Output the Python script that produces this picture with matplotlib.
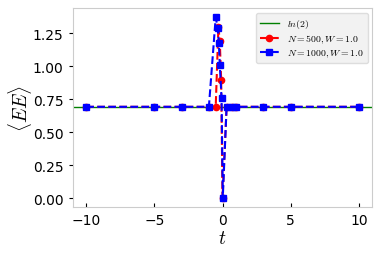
import numpy as np
import matplotlib
matplotlib.use("Agg")
import matplotlib.pyplot as plt

plt.rcParams["mathtext.fontset"] = "cm"

ln2 = np.log(2)

# N = 500
t_500 = [-10, -5, -3, -1, -0.5, -0.3, -0.2, -0.1, 0.0, 0.3, 0.7, 1, 3, 5, 10]
ee_500 = [ln2, ln2, ln2, ln2, ln2, 1.30, 1.19, 0.90, 0.0, ln2, ln2, ln2, ln2, ln2, ln2]

# N = 1000
t_1000 = [-10, -5, -3, -1, -0.5, -0.35, -0.27, -0.2, -0.07, 0.02, 0.3, 0.7, 1, 3, 5, 10]
ee_1000 = [ln2, ln2, ln2, ln2, 1.37, 1.29, 1.18, 1.01, 0.76, 0.005, ln2, ln2, ln2, ln2, ln2, ln2]

fig = plt.figure(figsize=(3.82, 2.55), dpi=100)
ax = fig.add_axes([0.19, 0.183, 0.785, 0.78])

ax.axhline(ln2, color="green", lw=1.0, label=r"$ln(2)$")
ax.plot(t_500, ee_500, "--", color="red", marker="o", ms=4.5, lw=1.5,
        label=r"$N=500,W=1.0$")
ax.plot(t_1000, ee_1000, "--", color="blue", marker="s", ms=4.8, lw=1.5,
        label=r"$N=1000,W=1.0$")

ax.set_xlabel(r"$t$", fontsize=14, labelpad=1)
ax.set_ylabel(r"$\langle EE \rangle$", fontsize=14, labelpad=-1)
ax.set_xticks([-10, -5, 0, 5, 10])
ax.set_yticks([0.0, 0.25, 0.5, 0.75, 1.0, 1.25])
ax.tick_params(axis="x", direction="in", labelsize=10, length=3, pad=4)
ax.tick_params(axis="y", direction="out", labelsize=10, length=3)
for s in ax.spines.values():
    s.set_color("#cccccc")

leg = ax.legend(loc="upper right", fontsize=7, handlelength=2.0,
                labelspacing=0.25, borderaxespad=0.5, framealpha=1)
leg.get_frame().set_facecolor("#f2f2f2")
leg.get_frame().set_edgecolor("#dddddd")

fig.savefig("out.png", dpi=100)
